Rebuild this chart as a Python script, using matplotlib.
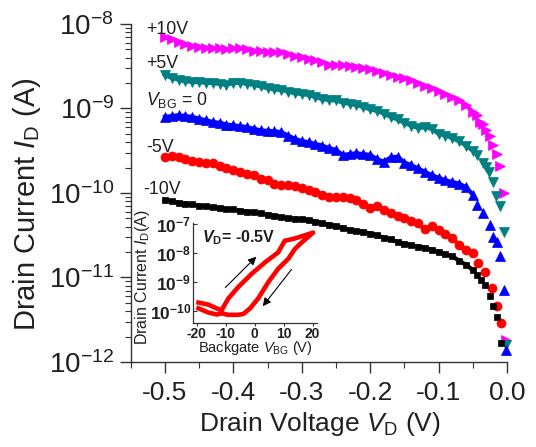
import numpy as np
import matplotlib.pyplot as plt
from matplotlib.ticker import FuncFormatter, LogLocator, NullFormatter

plt.rcParams['font.family'] = ['Liberation Sans', 'DejaVu Sans']
plt.rcParams['mathtext.fontset'] = 'custom'
plt.rcParams['mathtext.rm'] = 'Liberation Sans'
plt.rcParams['mathtext.it'] = 'Liberation Sans:italic'
plt.rcParams['mathtext.bf'] = 'Liberation Sans:bold'
plt.rcParams['mathtext.bfit'] = 'Liberation Sans:italic:bold'

txt = '#231f20'

# сетка напряжения стока (В), основная часть кривых
vd_main = [-0.50, -0.49, -0.48, -0.47, -0.46, -0.45, -0.44, -0.43, -0.42, -0.41,
           -0.40, -0.39, -0.38, -0.37, -0.36, -0.35, -0.34, -0.33, -0.32, -0.31,
           -0.30, -0.29, -0.28, -0.27, -0.26, -0.25, -0.24, -0.23, -0.22, -0.21,
           -0.20, -0.19, -0.18, -0.17, -0.16, -0.15, -0.14, -0.13, -0.12, -0.11,
           -0.10, -0.09, -0.08, -0.07, -0.06, -0.05]

# log10(I_D) для каждого V_BG
log_p10 = [-8.16, -8.18, -8.21, -8.24, -8.26, -8.27, -8.28, -8.285, -8.29, -8.30,
           -8.29, -8.285, -8.30, -8.315, -8.32, -8.328, -8.33, -8.33, -8.35, -8.38,
           -8.39, -8.41, -8.43, -8.45, -8.48, -8.485, -8.485, -8.495, -8.505, -8.52,
           -8.536, -8.56, -8.585, -8.605, -8.628, -8.645, -8.668, -8.70, -8.73, -8.76,
           -8.79, -8.83, -8.87, -8.905, -8.96, -9.04]
log_p5 = [-8.60, -8.64, -8.66, -8.68, -8.685, -8.69, -8.695, -8.70, -8.71, -8.72,
          -8.70, -8.695, -8.71, -8.72, -8.74, -8.76, -8.775, -8.78, -8.80, -8.82,
          -8.83, -8.84, -8.865, -8.89, -8.90, -8.905, -8.93, -8.945, -8.96, -8.985,
          -9.01, -9.03, -9.06, -9.10, -9.13, -9.17, -9.205, -9.23, -9.225, -9.24,
          -9.30, -9.32, -9.35, -9.39, -9.44, -9.50]
log_0 = [-9.10, -9.09, -9.08, -9.09, -9.10, -9.12, -9.14, -9.16, -9.17, -9.19,
         -9.20, -9.21, -9.22, -9.24, -9.26, -9.265, -9.27, -9.28, -9.32, -9.36,
         -9.385, -9.40, -9.42, -9.44, -9.47, -9.49, -9.55, -9.54, -9.53, -9.54,
         -9.55, -9.60, -9.63, -9.58, -9.57, -9.64, -9.67, -9.71, -9.75, -9.79,
         -9.82, -9.85, -9.87, -9.89, -9.93, -10.02]
log_m5 = [-9.58, -9.56, -9.57, -9.60, -9.62, -9.63, -9.64, -9.65, -9.68, -9.71,
          -9.73, -9.75, -9.77, -9.79, -9.83, -9.85, -9.89, -9.905, -9.905, -9.92,
          -9.94, -9.96, -9.985, -10.02, -10.05, -10.045, -10.045, -10.06, -10.08, -10.13,
          -10.18, -10.16, -10.20, -10.24, -10.27, -10.30, -10.33, -10.36, -10.43, -10.39,
          -10.44, -10.48, -10.53, -10.62, -10.67, -10.71]
log_m10 = [-10.08, -10.10, -10.115, -10.125, -10.135, -10.15, -10.16, -10.17, -10.18, -10.19,
           -10.195, -10.21, -10.22, -10.23, -10.24, -10.255, -10.27, -10.285, -10.30, -10.305,
           -10.31, -10.325, -10.34, -10.36, -10.375, -10.39, -10.41, -10.44, -10.45, -10.46,
           -10.48, -10.50, -10.53, -10.55, -10.58, -10.60, -10.62, -10.635, -10.65, -10.67,
           -10.70, -10.72, -10.75, -10.80, -10.85, -10.91]

# хвосты у V_D -> 0 (отдельные точки)
vt_p10 = [-0.044, -0.039, -0.035, -0.030, -0.025, -0.021, -0.015, -0.010, -0.004, -0.002]
lt_p10 = [-9.08, -9.16, -9.18, -9.25, -9.33, -9.43, -9.54, -9.68, -10.0, -11.74]
vt_p5 = [-0.044, -0.035, -0.030, -0.027, -0.020, -0.016, -0.010, -0.005, -0.002]
lt_p5 = [-9.55, -9.65, -9.69, -9.75, -9.87, -10.04, -10.16, -10.46, -11.80]
vt_0 = [-0.044, -0.035, -0.025, -0.020, -0.015, -0.010, -0.004, -0.001]
lt_0 = [-10.14, -10.24, -10.38, -10.52, -10.58, -10.75, -11.15, -11.86]
vt_m5 = [-0.042, -0.032, -0.022, -0.015, -0.009]
lt_m5 = [-10.83, -10.93, -11.13, -11.34, -11.54]
vt_m10 = [-0.044, -0.038, -0.032, -0.025, -0.020, -0.015, -0.009]
lt_m10 = [-10.97, -11.03, -11.09, -11.22, -11.34, -11.47, -11.77]

# вставка: петля гистерезиса при V_D = -0.5 В
loop_vbg = [-19.4, -16.0, -13.1, -11.4, -9.1, -5.7, -1.0, 3.6, 8.1, 10.4, 13.9, 20.2,
            16.2, 13.9, 11.6, 8.1, 4.7, 1.2, -1.6, -3.9, -5.7, -9.1, -11.4, -13.1, -16.0, -19.4]
loop_log = [-9.71, -9.78, -9.91, -9.97, -9.57, -9.18, -8.72, -8.33, -7.99, -7.59, -7.51, -7.31,
            -7.65, -7.87, -8.21, -8.55, -9.01, -9.57, -9.91, -10.10, -10.13, -10.13, -10.08, -10.12, -10.05, -9.91]

series = [
    (log_p10, vt_p10, lt_p10, '#ff00ff', '>', 6.5),
    (log_p5, vt_p5, lt_p5, '#008080', 'v', 6.5),
    (log_0, vt_0, lt_0, '#0000ff', '^', 6.5),
    (log_m5, vt_m5, lt_m5, '#ff0000', 'o', 6.5),
    (log_m10, vt_m10, lt_m10, '#000000', 's', 4.8),
]

fig = plt.figure(figsize=(5.36, 4.47), dpi=100)
ax = fig.add_axes([0.2438, 0.1902, 0.7021, 0.7562])

for lm, vt, lt, c, mk, ms in series:
    ax.plot(vd_main, 10 ** np.array(lm), color=c, lw=3, marker=mk, ms=ms,
            mec=c, mew=0.5, clip_on=False)
    ax.plot(vt, 10 ** np.array(lt), ls='none', color=c, marker=mk, ms=ms,
            mec=c, mew=0.5, clip_on=False)

ax.set_yscale('log')
ax.set_ylim(1e-12, 1e-8)
ax.set_xlim(-0.55, 0.0)
ax.set_xticks([-0.5, -0.4, -0.3, -0.2, -0.1, 0.0])
ax.set_xticklabels(['-0.5', '-0.4', '-0.3', '-0.2', '-0.1', '0.0'])
ax.set_xticks([-0.55, -0.45, -0.35, -0.25, -0.15, -0.05], minor=True)
ax.yaxis.set_minor_locator(LogLocator(base=10, subs=np.arange(2, 10)))
ax.yaxis.set_minor_formatter(NullFormatter())
ax.spines['top'].set_visible(False)
ax.spines['right'].set_visible(False)
for s in ['left', 'bottom']:
    ax.spines[s].set_color('#333333')
    ax.spines[s].set_linewidth(1)
ax.tick_params(which='major', length=8, width=1, color='#333333', labelcolor=txt)
ax.tick_params(which='minor', length=4, width=0.8, color='#333333')
ax.tick_params(axis='y', labelsize=20, pad=4)
ax.tick_params(axis='x', labelsize=19, pad=6)

ax.set_ylabel(r'Drain Current $I_\mathrm{D}$ (A)', fontsize=21, color=txt, va='center')
ax.yaxis.set_label_coords(-0.2756, 0.4675)
ax.set_xlabel(r'Drain Voltage $V_\mathrm{D}$ (V)', fontsize=19, color=txt, va='baseline')
ax.xaxis.set_label_coords(0.503, -0.205)

lab_kw = dict(ha='left', va='center', fontsize=12.8, color=txt)
ax.text(-0.527, 10 ** -8.06, '+10V', **lab_kw)
ax.text(-0.527, 10 ** -8.47, '+5V', **lab_kw)
ax.text(-0.527, 10 ** -8.90, r'$V_\mathrm{BG}$ = 0', **lab_kw)
ax.text(-0.527, 10 ** -9.46, '-5V', **lab_kw)
ax.text(-0.531, 10 ** -9.96, '-10V', **lab_kw)

# вставка
ins = fig.add_axes([0.3595, 0.2781, 0.2313, 0.2237])
ins.patch.set_alpha(0)
ins.plot(loop_vbg, 10 ** np.array(loop_log), color='#ff0000', lw=3.3, solid_joinstyle='round')
ins.set_yscale('log')
ins.set_ylim(10 ** -10.4, 10 ** -6.97)
ins.set_xlim(-21.4, 21.4)
ins.set_xticks([-20, -10, 0, 10, 20])
ins.set_xticklabels(['-20', '-10', '0', '10', '20'], fontweight='bold')
ins.set_yticks([1e-10, 1e-9, 1e-8, 1e-7])
ins.yaxis.set_major_formatter(FuncFormatter(lambda v, p: r'$\mathbf{10^{%d}}$' % round(np.log10(v))))
ins.yaxis.set_minor_locator(LogLocator(base=10, subs=np.arange(2, 10)))
ins.yaxis.set_minor_formatter(NullFormatter())
ins.spines['top'].set_visible(False)
ins.spines['right'].set_visible(False)
for s in ['left', 'bottom']:
    ins.spines[s].set_color('#333333')
    ins.spines[s].set_linewidth(0.9)
ins.tick_params(axis='x', which='major', length=2.5, width=0.8, pad=0.5, labelsize=10,
                color='#333333', labelcolor=txt)
ins.tick_params(axis='y', which='major', direction='in', length=3, width=0.8, pad=1,
                labelsize=12.5, color='#333333', labelcolor=txt)
ins.tick_params(axis='y', which='minor', direction='in', length=1.5, width=0.6, color='#333333')

ins.annotate('', xy=(1.24, 10 ** -8.07), xytext=(-10.8, 10 ** -9.26),
             arrowprops=dict(arrowstyle='-|>', color='black', lw=0.8, mutation_scale=12))
ins.annotate('', xy=(2.2, 10 ** -9.91), xytext=(13.3, 10 ** -8.50),
             arrowprops=dict(arrowstyle='-|>', color='black', lw=0.8, mutation_scale=12))
ins.text(-18.3, 10 ** -7.49, r'$\mathbfit{V}_\mathbf{D}$= -0.5V', ha='left', va='center',
         fontsize=11.5, fontweight='bold', color=txt)

ins.set_ylabel(r'Drain Current $I_\mathrm{D}$(A)', fontsize=11.5, color=txt, va='center')
ins.yaxis.set_label_coords((142 - 192.7) / 124, (322.7 - 277) / 100)
ins.set_xlabel(r'Backgate $V_\mathrm{BG}$ (V)', fontsize=10.5, color=txt, va='baseline')
ins.xaxis.set_label_coords((255 - 192.7) / 124, (322.7 - 352.5) / 100)

plt.savefig('out.png', dpi=100)
